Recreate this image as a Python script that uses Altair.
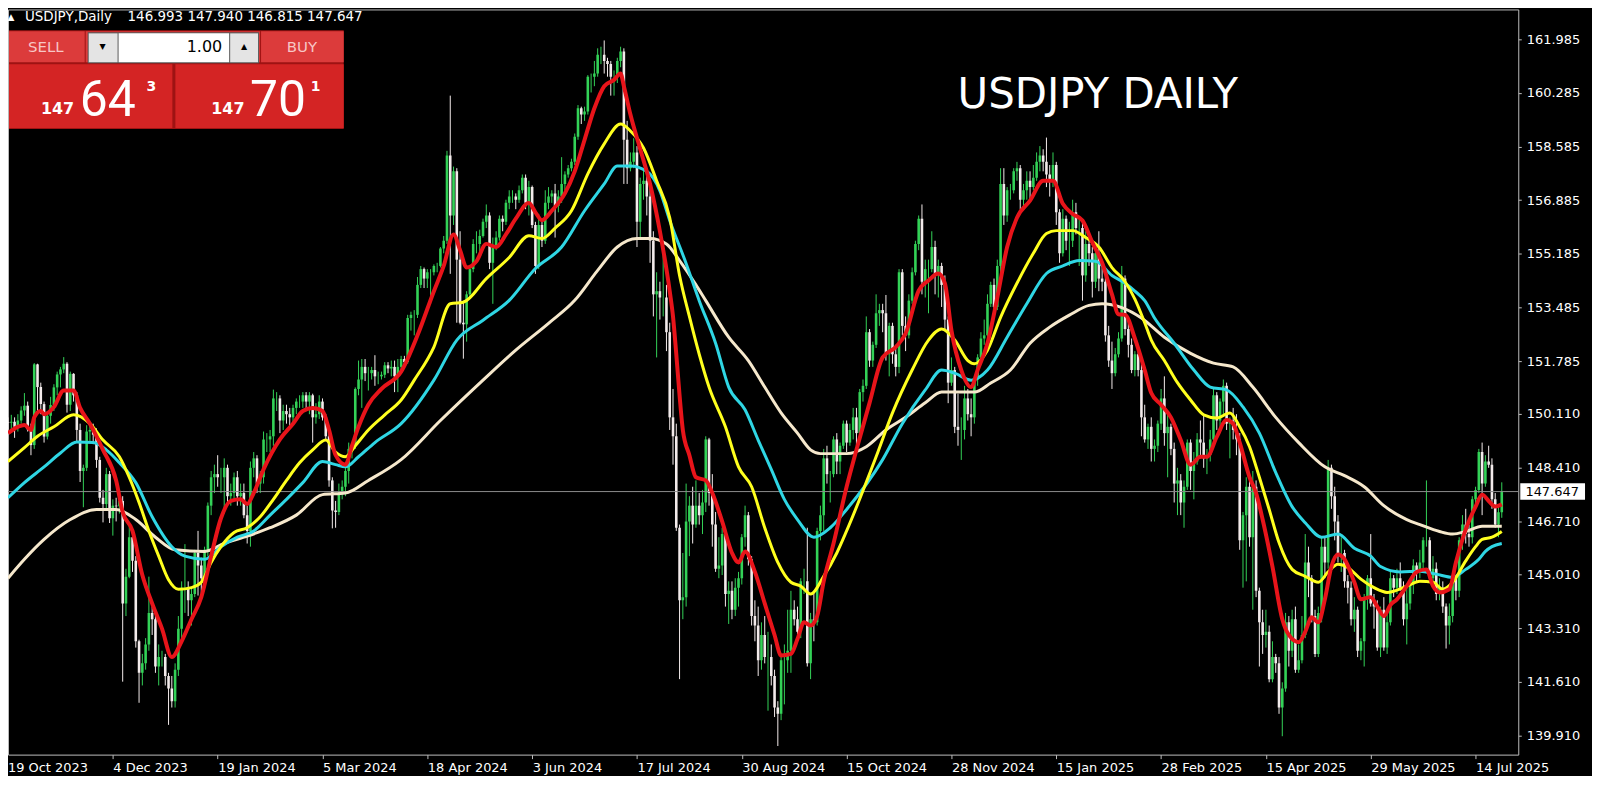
import altair as alt
import pandas as pd

# ---------------- values ----------------
FIRST_OPEN = 149.85
CLOSE = [
149.83,149.86,149.70,149.90,150.22,150.37,149.62,149.12,151.68,150.96,
150.42,149.39,150.05,150.39,150.95,151.36,151.52,151.70,150.40,151.38,
150.70,149.60,148.30,148.40,149.55,149.60,149.45,148.65,147.45,147.25,
148.20,146.80,147.20,147.18,147.35,144.10,144.95,146.20,145.45,142.90,
141.90,142.20,142.80,143.80,143.60,142.10,142.40,142.40,141.80,141.40,
141.00,142.00,143.30,144.60,144.60,144.20,144.40,145.70,145.30,144.90,
145.80,147.20,148.10,148.20,148.10,148.10,148.40,147.50,147.60,148.10,
147.50,147.60,146.90,146.40,148.40,148.70,147.90,148.10,149.30,149.30,
149.40,150.60,150.60,149.90,150.20,150.10,150.00,150.30,150.50,150.50,
150.70,150.50,150.70,150.00,150.10,150.50,150.00,149.40,148.00,147.05,
147.00,147.60,147.80,148.30,149.00,149.10,150.90,151.20,151.60,151.40,
151.40,151.50,151.30,151.30,151.35,151.65,151.55,151.60,151.30,151.60,
151.85,151.75,153.15,153.25,153.25,154.20,154.70,154.40,154.60,154.60,
154.80,154.80,155.35,155.60,158.30,156.40,157.80,155.00,153.00,152.95,
153.90,154.70,155.50,155.50,155.75,156.20,156.40,154.90,155.40,155.70,
156.30,156.20,156.80,157.00,157.00,156.90,157.20,157.60,156.80,157.30,
156.10,154.80,156.10,155.60,156.80,157.00,157.10,156.70,157.00,157.40,
157.70,157.90,158.10,158.90,159.80,159.60,159.70,160.80,160.80,160.90,
161.50,161.50,161.30,161.20,160.80,160.80,161.30,161.60,158.80,157.90,
158.10,158.40,156.20,157.40,157.50,157.00,155.60,153.90,154.00,153.80,
153.80,152.70,150.00,149.40,146.50,144.20,144.30,146.70,147.20,146.60,
147.20,146.90,147.30,149.30,147.60,146.60,145.20,145.30,146.30,144.40,
144.50,143.90,144.60,144.90,146.20,146.90,145.50,143.70,143.40,142.30,
143.10,142.40,142.40,141.80,140.80,140.60,142.30,142.30,142.60,143.90,
143.60,143.20,144.80,144.80,142.20,143.60,143.50,146.40,146.90,148.70,
148.20,148.20,149.30,148.60,149.10,149.80,149.20,149.60,150.00,149.50,
150.80,151.00,152.70,151.80,152.30,153.30,153.40,153.30,152.00,152.90,
152.00,151.60,154.60,152.90,152.60,153.70,154.60,155.50,156.30,154.30,
154.70,154.70,155.40,154.50,154.80,154.20,153.10,151.10,151.50,149.70,
149.60,149.60,150.60,150.10,150.00,151.20,151.90,152.50,152.60,153.60,
154.20,153.50,154.80,157.40,156.40,157.20,157.20,157.80,157.90,156.90,
157.20,157.50,157.30,157.60,158.10,158.30,158.10,157.70,157.50,158.00,
156.50,155.20,156.30,155.60,155.60,156.50,156.00,156.00,154.50,155.50,
155.20,154.30,155.20,154.40,154.30,152.60,151.80,151.40,152.00,152.50,
154.40,152.80,152.30,151.50,152.00,151.50,150.00,149.30,149.70,149.00,
149.10,149.80,150.60,149.50,149.70,149.00,147.90,148.00,147.30,147.80,
149.20,148.30,148.60,149.30,149.20,148.70,148.80,149.30,150.70,149.90,
150.50,151.00,149.80,149.90,149.60,149.30,146.10,146.90,147.80,146.20,
147.80,144.50,143.50,143.10,143.20,141.70,142.40,142.20,140.80,141.40,
143.50,142.60,143.60,142.00,142.30,143.10,145.40,144.90,143.70,142.50,
143.80,145.90,145.40,148.40,147.50,146.70,145.70,145.70,144.80,144.60,
143.60,143.90,142.60,142.90,144.30,144.90,144.10,144.00,142.70,143.90,
142.70,143.50,144.90,144.60,144.90,144.60,143.60,144.10,144.70,145.30,
145.10,145.40,146.10,146.10,144.90,145.20,144.40,144.60,144.00,143.40,
143.70,144.90,144.50,146.10,146.60,146.30,146.20,147.40,147.70,148.90,
147.90,148.60,148.50,147.40,146.60,146.993,147.647]

HIGH = [
150.00,150.08,150.00,150.10,150.35,150.77,150.50,149.80,151.72,151.70,
151.10,150.50,150.20,150.65,151.05,151.45,151.60,151.91,151.75,151.45,
151.40,150.80,149.80,148.50,149.75,149.80,149.80,149.65,148.75,147.70,
148.40,148.30,147.40,147.45,147.60,147.50,145.20,146.60,146.50,145.60,
142.95,142.50,143.00,144.95,144.00,143.80,142.80,142.60,142.50,141.90,
141.80,142.20,143.70,144.80,145.98,144.80,144.60,145.80,146.40,145.55,
145.90,147.30,148.30,148.50,148.80,148.40,148.70,148.50,147.90,148.25,
148.30,147.90,147.90,147.20,148.60,148.90,148.80,148.30,149.55,149.50,
149.60,150.88,150.80,150.70,150.40,150.40,150.30,150.40,150.60,150.70,
150.80,150.80,150.80,150.75,150.45,150.70,150.60,150.10,149.50,148.10,
147.35,147.90,148.00,148.40,149.20,149.20,150.95,151.80,151.85,151.85,
151.60,151.60,151.97,151.45,151.45,151.75,151.75,151.80,151.80,151.85,
151.95,151.95,153.25,153.35,153.40,154.45,154.80,154.75,154.70,154.70,
154.85,154.90,155.40,155.75,158.45,160.20,157.95,157.90,155.90,153.70,
154.00,154.80,155.65,155.90,155.95,156.30,156.75,156.50,155.70,155.90,
156.40,156.40,156.90,157.20,157.20,157.10,157.35,157.70,157.70,157.50,
157.35,156.20,156.45,156.20,157.20,157.30,157.20,157.40,157.20,158.25,
157.80,158.00,158.20,159.00,159.90,159.85,159.85,160.85,160.90,161.30,
161.70,161.75,161.95,161.40,161.30,161.00,161.40,161.75,161.70,159.40,
158.40,158.85,158.60,157.60,157.90,157.80,157.30,155.90,154.60,154.30,
155.20,154.20,153.00,150.90,149.80,146.60,145.70,147.90,147.50,147.80,
148.00,147.60,147.70,149.40,149.35,148.20,147.00,146.20,146.50,146.50,
144.80,144.80,144.90,145.10,146.30,147.20,147.00,145.60,144.20,144.00,
143.50,143.70,143.20,142.80,142.00,141.00,142.40,142.80,143.90,144.50,
144.20,144.00,144.90,145.20,146.50,143.80,144.50,146.50,147.20,149.00,
149.10,148.30,149.40,149.50,149.20,149.90,149.90,149.80,150.30,150.30,
150.90,151.20,153.20,152.80,152.40,153.90,153.60,153.60,153.88,153.00,
153.00,152.30,154.70,154.70,153.20,153.90,154.75,155.60,156.40,156.75,
155.00,155.00,155.90,155.60,155.00,154.90,154.50,153.20,151.90,151.60,
150.75,150.00,151.00,150.90,150.60,151.30,152.00,152.70,153.10,153.90,
154.30,154.40,155.00,157.90,157.90,157.30,157.40,157.90,158.10,158.00,
157.40,157.80,157.80,158.00,158.40,158.60,158.50,158.87,158.00,158.40,
158.10,156.60,156.60,156.40,156.20,156.90,156.80,156.30,156.20,155.90,
155.80,155.40,155.40,155.90,155.00,154.50,152.90,152.40,152.20,152.70,
154.80,154.50,153.20,152.50,152.10,152.20,151.70,150.40,149.80,150.00,
149.30,149.90,150.90,151.30,150.10,149.80,149.20,148.40,148.20,148.00,
149.30,149.30,148.90,149.50,149.90,150.10,149.00,149.60,150.90,150.80,
150.60,151.20,151.10,150.00,150.30,150.10,149.50,147.00,148.10,148.10,
148.30,148.00,144.60,143.90,143.90,143.40,142.90,142.50,142.40,141.60,
143.80,143.70,143.90,144.00,142.80,143.70,146.30,145.90,145.00,143.90,
144.00,146.20,146.20,148.65,148.50,147.80,146.90,146.20,145.80,145.00,
144.80,144.30,144.00,143.00,144.40,145.00,146.30,144.40,144.20,144.00,
144.30,143.90,145.10,145.00,145.20,145.40,144.80,144.60,144.80,145.50,
145.40,145.80,146.20,148.00,146.20,145.60,145.40,144.90,144.80,144.10,
144.10,145.10,145.00,146.20,146.90,147.10,146.60,147.50,147.80,149.00,
149.20,148.80,149.10,148.70,147.60,147.20,147.94]

LOW = [
149.62,149.60,149.35,149.55,149.80,150.05,149.55,148.80,149.00,150.15,
150.10,149.20,149.30,149.80,150.20,150.70,150.95,151.40,150.15,150.20,
150.50,149.20,147.95,147.15,148.30,149.20,149.15,148.40,147.30,146.67,
147.10,146.65,146.25,146.70,146.95,141.62,143.70,144.90,145.10,142.70,
140.95,141.50,142.00,142.60,143.10,141.90,141.50,142.10,141.50,140.25,
140.80,140.80,141.80,143.00,143.80,143.70,143.40,144.30,144.35,144.35,
144.70,145.60,146.90,147.60,147.80,147.60,146.95,147.20,147.20,147.40,
147.20,147.20,146.80,146.00,145.90,148.10,147.60,147.60,147.90,148.90,
148.90,149.10,150.20,149.50,149.60,149.80,149.70,149.80,150.10,150.30,
150.30,150.20,150.10,149.20,149.80,149.95,149.90,149.30,147.80,146.48,
146.50,146.90,147.40,147.50,147.90,148.70,149.00,150.70,150.30,151.15,
150.85,151.20,151.00,151.05,151.20,151.25,151.40,151.30,150.80,150.80,
151.45,151.55,151.70,152.75,152.60,153.15,154.10,154.10,154.10,153.60,
154.50,154.60,154.75,155.20,155.50,154.55,156.10,153.00,152.95,151.86,
152.40,153.80,154.60,155.20,155.20,155.70,156.00,154.70,153.60,155.30,
155.60,155.90,156.10,156.60,156.80,156.60,156.80,157.10,156.60,156.40,
156.00,154.55,154.70,155.40,155.50,156.60,156.80,155.70,156.50,156.80,
157.20,157.60,157.80,158.00,158.80,159.30,159.40,159.60,160.30,160.50,
160.80,161.20,160.90,160.80,160.20,160.20,160.60,161.10,157.40,157.40,
157.80,157.90,155.40,155.70,156.90,156.40,154.90,153.20,151.90,153.10,
153.20,152.10,149.60,148.50,146.40,141.70,143.60,144.00,145.60,146.00,
146.50,146.60,146.30,147.00,147.20,145.90,145.10,144.90,145.00,144.00,
143.45,143.60,143.70,144.00,144.70,145.90,145.30,143.40,142.90,141.80,
142.00,142.20,140.70,141.50,140.50,139.58,140.40,140.90,141.90,141.90,
143.40,142.90,143.00,144.40,142.10,141.70,142.90,143.40,146.10,146.40,
147.90,147.30,148.10,148.20,148.20,149.00,148.90,149.10,149.30,149.10,
149.40,150.50,150.90,151.60,151.60,152.20,152.90,152.70,151.80,151.30,
151.70,151.30,151.40,152.60,152.10,152.50,153.60,154.50,155.30,153.90,
153.80,153.30,154.60,153.90,153.80,153.50,152.80,150.45,151.00,149.50,
149.10,148.65,149.30,149.90,149.40,149.80,151.00,151.70,152.30,152.50,
153.50,153.30,153.40,154.50,156.10,156.20,156.90,157.10,157.50,156.60,
156.70,156.90,156.90,157.20,157.50,157.80,157.80,157.30,157.00,157.30,
156.10,154.90,155.10,155.30,154.80,155.40,155.80,154.80,153.70,154.30,
154.80,153.80,154.10,154.00,154.00,152.40,151.60,150.90,151.30,151.90,
152.40,152.60,151.90,151.40,151.30,151.30,149.40,149.20,149.00,148.60,
148.60,148.90,149.60,149.10,148.10,148.80,147.30,146.90,146.90,146.50,
147.70,147.70,147.40,148.50,148.70,148.40,148.20,148.60,149.10,149.60,
149.50,150.10,149.60,148.70,149.30,148.80,145.80,144.60,144.80,145.90,
143.90,144.30,142.10,142.50,142.70,141.60,141.60,141.90,140.60,139.89,
141.30,142.10,142.40,141.90,141.90,142.20,143.00,144.30,143.50,142.40,
142.40,143.50,144.90,145.20,147.10,146.10,145.40,145.10,144.60,144.10,
143.40,143.20,142.40,142.30,142.10,143.90,144.00,143.30,142.60,142.40,
142.60,142.50,143.40,144.30,144.40,144.50,143.40,142.80,143.90,144.40,
144.80,144.90,145.20,145.90,144.80,144.80,144.20,144.20,143.80,142.67,
142.80,143.50,144.20,144.30,145.80,146.00,145.90,146.00,147.10,147.60,
146.90,147.80,148.40,147.10,146.50,146.20,146.815]

# moving-average lines: (bar index, price)
RED = [(0,149.5),(3,149.7),(5,149.76),(7,149.6),(8,150.0),(10,150.2),(11,150.1),(14,150.33),(17,150.85),
(20,150.85),(22,150.3),(25,149.8),(29,148.97),(33,148.0),(35,147.0),(38,146.4),(41,145.0),(44,144.1),
(47,143.3),(50,142.4),(53,142.9),(56,143.6),(59,144.3),(62,145.6),(65,146.8),(68,147.35),(71,147.4),
(73,147.25),(75,147.6),(78,148.35),(83,149.3),(87,149.8),(90,150.2),(93,150.3),(96,150.2),(98,149.6),
(100,148.8),(103,148.5),(105,149.1),(107,149.7),(110,150.4),(114,150.9),(120,151.45),(125,152.6),
(130,154.0),(133,154.8),(136,155.8),(138,155.3),(140,154.75),(143,154.95),(146,155.5),(149,155.4),
(152,155.8),(155,156.3),(159,156.8),(161,156.5),(163,156.25),(166,156.55),(170,157.1),(173,157.8),
(176,158.8),(179,159.8),(182,160.5),(185,160.7),(187,160.9),(188,160.5),(190,159.6),(193,158.5),
(196,157.4),(199,155.9),(202,154.0),(203,153.2),(204,152.0),(205,150.7),(206,149.6),(208,148.8),
(210,148.1),(213,148.0),(215,147.6),(218,146.7),(221,145.7),(223,145.4),(225,145.75),(228,145.1),
(231,144.1),(234,143.1),(236,142.45),(239,142.5),(241,142.97),(243,143.5),(245,143.4),(247,143.7),
(249,144.8),(252,146.0),(256,147.8),(259,148.97),(263,150.46),(267,151.9),(271,152.23),(274,152.66),
(278,154.02),(281,154.34),(284,154.56),(286,154.25),(288,152.76),(291,151.5),(294,150.96),(296,151.5),
(299,152.35),(302,153.8),(305,155.4),(308,156.33),(312,156.87),(316,157.5),(319,157.5),(322,156.77),
(325,156.45),(328,156.24),(331,155.55),(334,154.9),(337,153.9),(339,153.27),(341,153.25),(344,152.5),
(347,151.5),(349,150.77),(352,150.4),(355,150.0),(358,149.28),(361,148.5),(364,148.75),(366,148.75),
(369,149.38),(372,149.92),(374,149.8),(376,149.2),(379,148.1),(381,147.6),(383,146.76),(386,145.27),
(389,143.6),(391,143.1),(394,142.87),(396,143.2),(398,143.66),(400,143.5),(402,144.23),(404,145.27),
(406,145.65),(408,145.5),(411,144.77),(413,144.23),(416,144.3),(418,144.0),(420,143.7),(422,144.05),
(424,144.23),(427,144.65),(430,145.1),(433,145.18),(435,144.65),(437,144.45),(440,144.55),(442,145.4),
(445,146.45),(448,147.17),(450,147.55),(452,147.35),(454,147.17),(456,147.24)]

YELLOW = [(0,148.6),(5,149.04),(9,149.4),(14,149.7),(20,150.08),(25,149.8),(29,149.28),(34,148.75),
(37,148.1),(40,147.3),(43,146.4),(46,145.6),(49,144.85),(52,144.55),(56,144.6),(59,144.77),(62,145.4),
(65,145.9),(69,146.35),(73,146.5),(77,146.85),(81,147.4),(85,148.0),(89,148.56),(93,148.97),(97,149.28),
(100,148.9),(103,148.75),(106,149.1),(110,149.6),(115,150.08),(120,150.55),(124,151.18),(130,152.23),
(135,153.6),(139,153.65),(146,154.4),(153,155.07),(159,155.76),(163,155.67),(167,156.0),(172,156.55),
(177,157.72),(182,158.67),(187,159.3),(190,159.08),(194,158.54),(198,157.5),(202,156.33),(205,154.5),
(208,153.2),(211,152.0),(214,150.96),(219,149.7),(223,148.43),(227,147.8),(231,146.5),(235,145.4),
(239,144.77),(242,144.65),(245,144.4),(249,144.96),(253,145.7),(256,146.4),(265,148.75),(270,150.14),
(276,151.5),(281,152.45),(285,152.8),(289,152.45),(293,151.8),(295,151.7),(299,152.13),(303,153.17),
(308,154.25),(313,155.2),(317,155.83),(320,155.92),(325,155.92),(329,155.7),(333,155.4),(337,154.75),
(341,154.3),(344,153.75),(347,153.0),(349,152.45),(353,151.8),(357,151.1),(361,150.55),(365,150.08),
(369,149.98),(373,150.14),(376,149.7),(379,149.07),(382,148.1),(385,147.08),(388,146.03),(392,145.18),
(396,144.96),(400,144.77),(403,145.1),(406,145.34),(409,145.24),(413,144.87),(417,144.6),(421,144.45),
(427,144.65),(431,144.8),(435,144.77),(438,144.55),(441,144.77),(445,145.45),(448,145.9),(450,146.13),
(453,146.2),(456,146.38)]

CYAN = [(0,147.45),(5,147.93),(11,148.43),(16,148.87),(21,149.22),(26,149.2),(30,148.97),(34,148.56),
(39,147.93),(44,146.85),(50,145.9),(54,145.6),(60,145.5),(65,145.9),(70,146.2),(75,146.4),(80,146.9),
(85,147.4),(90,147.93),(96,148.6),(100,148.5),(103,148.43),(107,148.75),(112,149.2),(120,149.8),
(130,151.18),(137,152.45),(145,153.08),(153,153.71),(161,154.72),(169,155.4),(176,156.55),(182,157.4),
(186,157.97),(190,157.97),(195,157.8),(199,157.18),(202,156.24),(207,154.88),(211,153.7),(216,152.35),
(220,150.96),(225,150.24),(229,149.28),(233,148.35),(237,147.4),(241,146.76),(246,146.2),(251,146.5),
(256,147.08),(267,148.66),(273,149.8),(280,150.87),(285,151.5),(289,151.4),(294,151.18),(299,151.5),
(305,152.54),(311,153.6),(317,154.56),(322,154.8),(327,154.97),(332,154.95),(337,154.5),(341,154.25),
(344,154.0),(347,153.7),(350,153.15),(356,152.35),(362,151.5),(367,150.96),(372,150.87),(377,150.33),
(382,149.5),(387,148.25),(392,147.17),(396,146.66),(401,146.2),(406,146.3),(411,145.85),(416,145.6),
(419,145.27),(425,145.1),(431,145.12),(436,145.03),(441,144.93),(445,145.18),(449,145.5),(451,145.75),
(453,145.9),(456,146.0)]

BEIGE = [(0,144.9),(5,145.5),(11,146.13),(19,146.76),(27,147.08),(33,147.08),(39,146.76),(45,146.2),
(51,145.8),(60,145.75),(66,146.0),(72,146.2),(80,146.5),(88,146.9),(96,147.55),(103,147.6),(110,148.0),
(120,148.66),(132,149.9),(145,151.18),(155,152.13),(165,152.98),(173,153.71),(180,154.66),(186,155.4),
(192,155.67),(196,155.67),(201,155.5),(205,154.97),(210,154.2),(213,153.7),(220,152.54),(226,151.8),
(231,150.96),(236,150.14),(241,149.5),(245,148.97),(248,148.85),(256,148.85),(262,149.07),(268,149.6),
(274,150.0),(280,150.46),(285,150.8),(290,150.8),(295,150.8),(300,151.09),(306,151.5),(312,152.35),
(318,152.86),(324,153.24),(330,153.55),(334,153.6),(340,153.48),(346,153.15),(353,152.54),(361,152.03),
(368,151.72),(374,151.6),(380,150.96),(387,150.0),(394,149.2),(402,148.43),(408,148.15),(414,147.8),
(420,147.2),(427,146.76),(431,146.6),(437,146.38),(441,146.3),(445,146.38),(450,146.55),(456,146.55)]

YTICKS = [161.985, 160.285, 158.585, 156.885, 155.185, 153.485, 151.785,
          150.110, 148.410, 146.710, 145.010, 143.310, 141.610, 139.910]
DATE_LABELS = ["19 Oct 2023", "4 Dec 2023", "19 Jan 2024", "5 Mar 2024", "18 Apr 2024",
               "3 Jun 2024", "17 Jul 2024", "30 Aug 2024", "15 Oct 2024", "28 Nov 2024",
               "15 Jan 2025", "28 Feb 2025", "15 Apr 2025", "29 May 2025", "14 Jul 2025"]
DATE_IDX = [32 * k for k in range(len(DATE_LABELS))]
LAST_PRICE = 147.647
HEADER_NAME = "USDJPY,Daily"
HEADER_OHLC = "146.993 147.940 146.815 147.647"
TITLE = "USDJPY DAILY"

# ---------------- chart ----------------
W, H = 1516, 748
XDOM = [1.5106, 459.52]
YDOM = [139.3066, 162.9326]
UP, DN = "#33d257", "#f3ebeb"
FRAME = "#bdbdbd"

n = len(CLOSE)
candles = pd.DataFrame({
    "idx": list(range(n)),
    "open": [FIRST_OPEN] + CLOSE[:-1],
    "close": CLOSE, "high": HIGH, "low": LOW,
})

label_expr = "[" + ",".join("'%s'" % s for s in DATE_LABELS) + "][round(datum.value / 32)]"
xscale = alt.Scale(domain=XDOM, nice=False, zero=False)
yscale = alt.Scale(domain=YDOM, nice=False, zero=False)
xaxis = alt.Axis(values=DATE_IDX[1:], labelExpr=label_expr, labelAlign="left", labelFlush=False,
                 labelOverlap=False, labelBaseline="top", tickSize=4, labelPadding=3, domain=False,
                 grid=False, labelColor="#ffffff", labelFont="DejaVu Sans", labelFontSize=13,
                 tickColor=FRAME)
yaxis = alt.Axis(orient="right", values=YTICKS, labelExpr="format(datum.value, '.3f')",
                 tickSize=3, labelPadding=5, domain=False, grid=False, labelOverlap=False,
                 labelColor="#ffffff", labelFont="DejaVu Sans", labelFontSize=13, tickColor=FRAME)


def X():
    return alt.X("idx:Q", scale=xscale, axis=xaxis, title=None)


def Y(f):
    return alt.Y(f + ":Q", scale=yscale, axis=yaxis, title=None)


candle_color = alt.condition("datum.close >= datum.open", alt.value(UP), alt.value(DN))
base = alt.Chart(candles)
wicks = base.transform_calculate(
    lo="min(datum.low, datum.open, datum.close)",
    hi="max(datum.high, datum.open, datum.close)",
).mark_rule(strokeWidth=1, clip=True).encode(x=X(), y=Y("lo"), y2=alt.Y2("hi:Q"), color=candle_color)
bodies = base.mark_bar(size=2.6, clip=True).encode(
    x=X(), y=Y("open"), y2=alt.Y2("close:Q"), color=candle_color)

price_df = pd.DataFrame({"p": [LAST_PRICE]})
price_rule = alt.Chart(price_df).mark_rule(color="#8c8c8c", strokeWidth=1).encode(y=Y("p"))


def ma(pairs, color, width):
    df = pd.DataFrame(pairs, columns=["idx", "p"])
    return alt.Chart(df).mark_line(color=color, strokeWidth=width, interpolate="monotone",
                                   clip=True).encode(x=X(), y=Y("p"))


lines = [ma(BEIGE, "#f6e8cc", 3), ma(CYAN, "#2fd6e4", 3), ma(YELLOW, "#ffff1e", 3),
         ma(RED, "#e8141a", 4)]

one = pd.DataFrame({"k": [0]})


def box(x1, y1, x2, y2, fill):
    return alt.Chart(one).mark_rect(color=fill).encode(
        x=alt.value(x1), x2=alt.value(x2), y=alt.value(y1), y2=alt.value(y2))


def txt(s, x, y, size, color="#ffffff", font="DejaVu Sans", weight="normal", align="left",
        baseline="middle"):
    return alt.Chart(one).mark_text(text=s, fontSize=size, color=color, font=font,
                                    fontWeight=weight, align=align, baseline=baseline).encode(
        x=alt.value(x), y=alt.value(y))


panel = [
    box(1, 21, 337, 120, "#9e1313"),
    box(1, 22, 77, 53, "#dc3b3b"),
    box(78, 22, 253, 53, "#dc3b3b"),
    box(80, 23, 252, 54, "#5a5a5a"),
    box(81, 24, 110, 53, "#e4e4e4"),
    box(111, 24, 222, 53, "#ffffff"),
    box(223, 24, 251, 53, "#e4e4e4"),
    box(254, 22, 337, 53, "#dc3b3b"),
    box(1, 55, 165, 119, "#d42424"),
    box(168, 55, 337, 119, "#d42424"),
    txt("SELL", 38, 38, 15, color="#f7c6c6", align="center"),
    txt("BUY", 295, 38, 15, color="#f7c6c6", align="center"),
    txt("1.00", 215, 38, 16, color="#000000", align="right"),
    txt("\u25bc", 95, 38, 8, color="#000000", align="center"),
    txt("\u25b2", 237, 38, 8, color="#000000", align="center"),
    txt("147", 33, 105, 16, weight="bold", baseline="alphabetic"),
    txt("64", 72, 107, 50, font="Roboto", baseline="alphabetic"),
    txt("3", 139, 82, 14, weight="bold", baseline="alphabetic"),
    txt("147", 204, 105, 16, weight="bold", baseline="alphabetic"),
    txt("70", 243, 107, 50, font="Roboto", baseline="alphabetic"),
    txt("1", 304, 82, 14, weight="bold", baseline="alphabetic"),
]

header = [
    txt("\u25b2", 3, 8, 9, align="center"),
    txt(HEADER_NAME, 17, 8, 13.5),
    txt(HEADER_OHLC, 120, 8, 13.5),
]

title = txt(TITLE, 1094, 86, 42, align="center")

price_box = alt.Chart(price_df).transform_calculate(
    lo="datum.p - 0.26", hi="datum.p + 0.26"
).mark_rect(color="#ffffff").encode(
    x=alt.value(W + 2), x2=alt.value(W + 67), y=Y("lo"), y2=alt.Y2("hi:Q"))
price_text = alt.Chart(price_df).mark_text(
    color="#000000", fontSize=13, font="DejaVu Sans", align="center", baseline="middle"
).encode(x=alt.value(W + 34), y=Y("p"), text=alt.Text("p:Q", format=".3f"))

first_date = txt(DATE_LABELS[0], 0, H + 7, 13, baseline="top")

chart = alt.layer(
    wicks, bodies, price_rule, *lines, *header, *panel, title, price_box, price_text, first_date
).properties(
    width=W, height=H,
    autosize=alt.AutoSizeParams(type="none"),
    padding={"left": 0, "top": 0, "right": 74, "bottom": 20},
    background="#000000",
).configure_view(stroke=FRAME, strokeWidth=1)

chart.save("out.html", embed_options={"renderer": "svg", "actions": False})
